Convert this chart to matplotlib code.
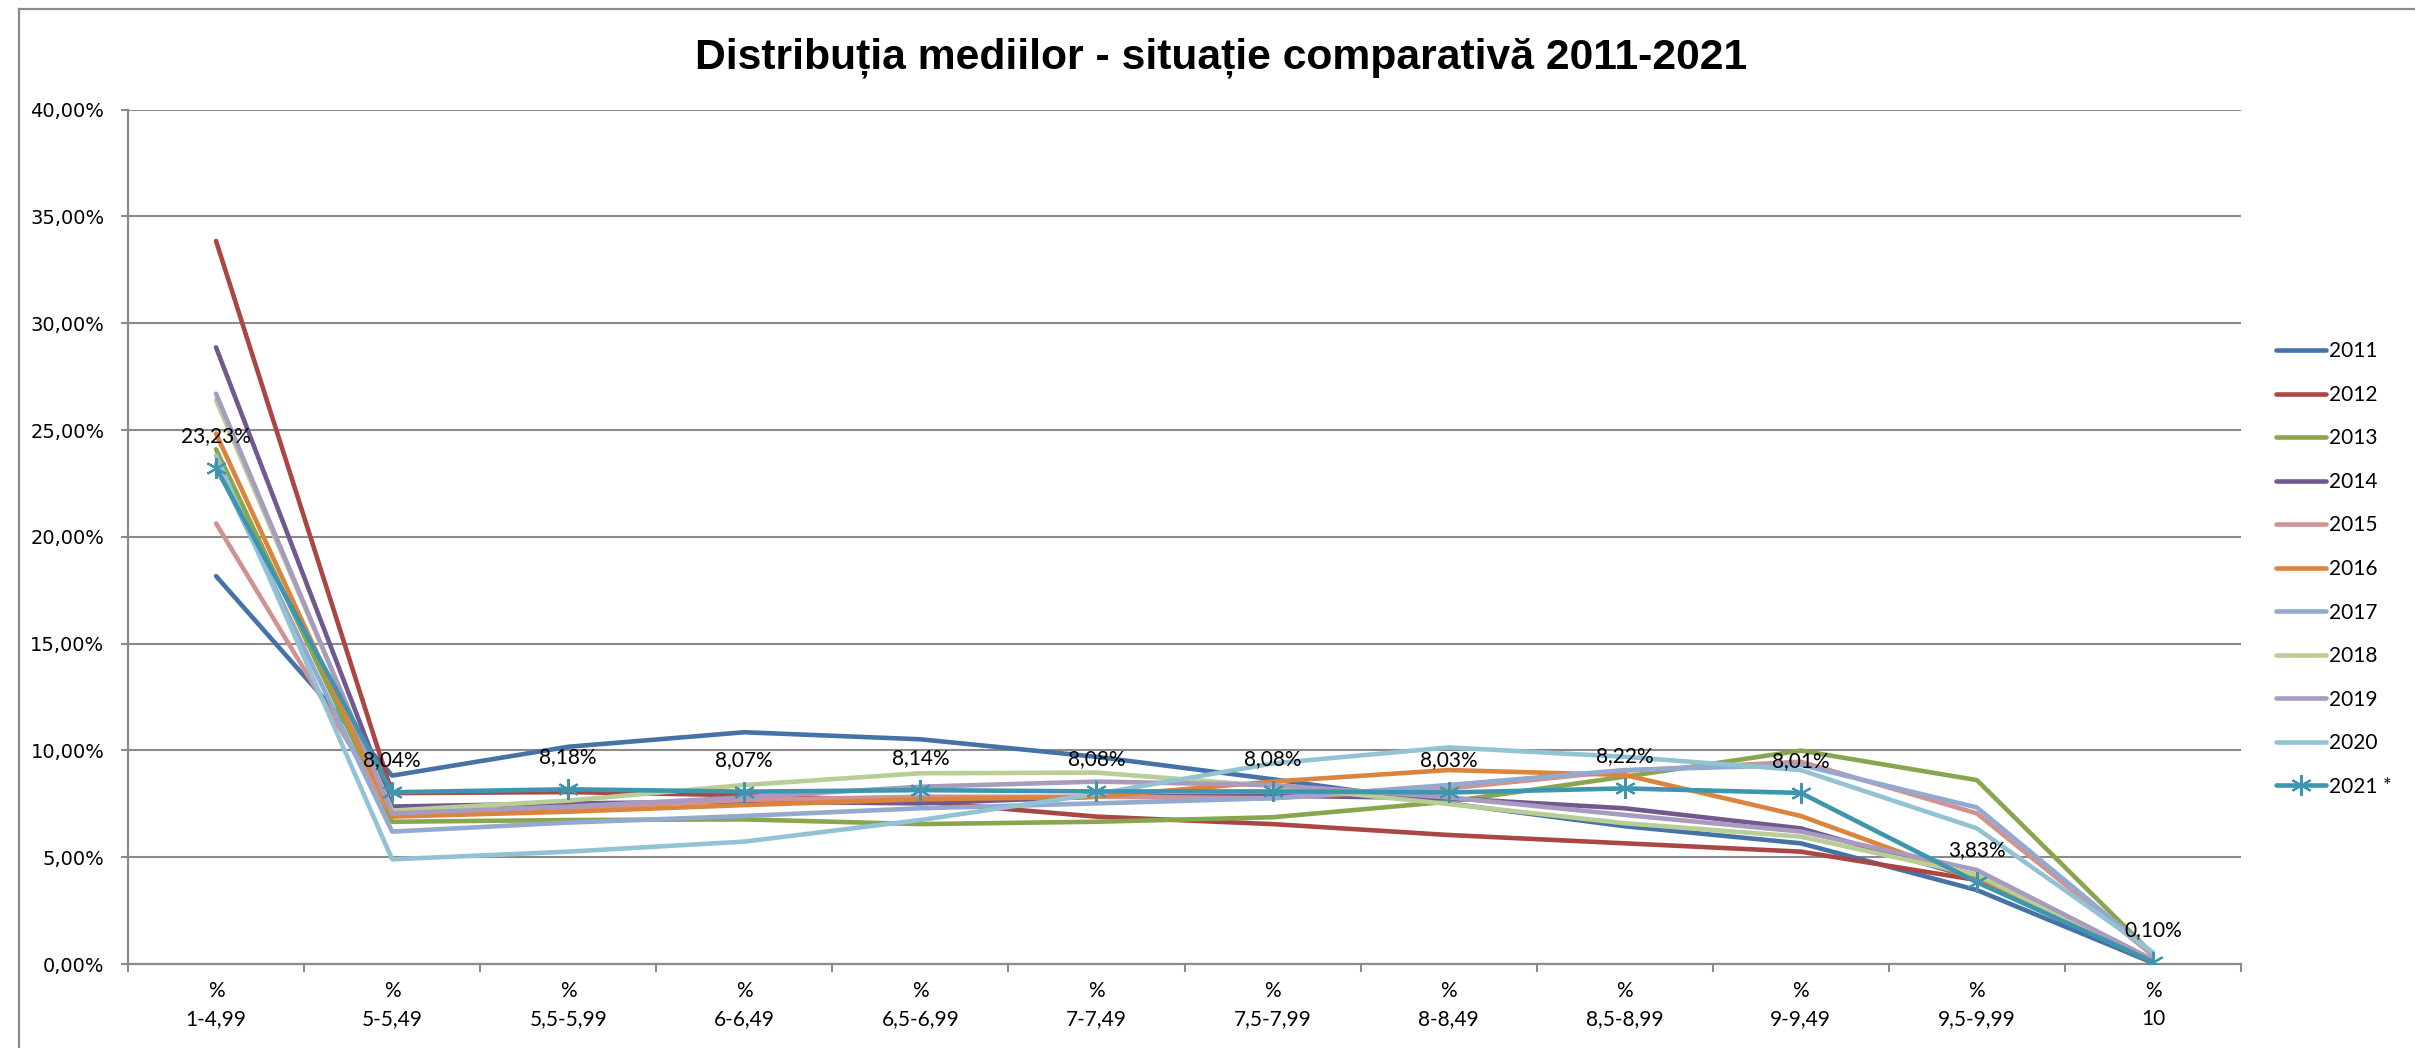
import matplotlib
matplotlib.use("Agg")
import matplotlib.pyplot as plt
from matplotlib.ticker import FuncFormatter, FixedLocator
from matplotlib.lines import Line2D

categorii = ["%\n1-4,99", "%\n5-5,49", "%\n5,5-5,99", "%\n6-6,49", "%\n6,5-6,99",
             "%\n7-7,49", "%\n7,5-7,99", "%\n8-8,49", "%\n8,5-8,99", "%\n9-9,49",
             "%\n9,5-9,99", "%\n10"]

ani = ["2011", "2012", "2013", "2014", "2015", "2016", "2017", "2018", "2019", "2020", "2021 *"]

v2011 = [18.16, 8.82, 10.17, 10.85, 10.52, 9.70, 8.65, 7.52, 6.45, 5.65, 3.46, 0.05]
v2012 = [33.85, 8.00, 8.05, 7.90, 7.60, 6.90, 6.55, 6.04, 5.65, 5.26, 3.93, 0.10]
v2013 = [24.10, 6.66, 6.74, 6.77, 6.55, 6.66, 6.87, 7.60, 8.77, 9.99, 8.61, 0.45]
v2014 = [28.87, 7.37, 7.52, 7.60, 7.52, 7.83, 7.88, 7.76, 7.29, 6.35, 4.00, 0.10]
v2015 = [20.63, 6.98, 7.29, 7.68, 7.83, 7.83, 7.76, 8.22, 9.05, 9.47, 7.05, 0.40]
v2016 = [24.83, 6.90, 7.13, 7.44, 7.71, 7.83, 8.54, 9.08, 8.85, 6.93, 3.93, 0.10]
v2017 = [23.40, 6.20, 6.62, 6.93, 7.29, 7.52, 7.76, 8.38, 9.08, 9.32, 7.33, 0.50]
v2018 = [26.40, 7.18, 7.65, 8.38, 8.93, 8.96, 8.33, 7.49, 6.59, 5.96, 4.17, 0.15]
v2019 = [26.70, 7.05, 7.37, 7.80, 8.30, 8.54, 8.38, 7.80, 6.98, 6.20, 4.40, 0.20]
v2020 = [23.80, 4.90, 5.26, 5.73, 6.74, 7.96, 9.39, 10.14, 9.70, 9.08, 6.35, 0.55]
v2021 = [23.23, 8.04, 8.18, 8.07, 8.14, 8.08, 8.08, 8.03, 8.22, 8.01, 3.83, 0.10]

serii = [v2011, v2012, v2013, v2014, v2015, v2016, v2017, v2018, v2019, v2020, v2021]
culori = ["#4572A7", "#AA4643", "#89A54E", "#71588F", "#D19392", "#DB843D",
          "#93A9CF", "#B9CD96", "#A99BBD", "#92C3D4", "#3D96AE"]

W, H = 2415, 1048
fig = plt.figure(figsize=(W / 100, H / 100), dpi=100)

# chenarul zonei graficului (taiat in dreapta si jos)
fig.add_artist(Line2D([19 / W, 1], [1 - 9 / H, 1 - 9 / H], transform=fig.transFigure,
                      color="#8a8a8a", lw=1.6))
fig.add_artist(Line2D([19 / W, 19 / W], [0, 1 - 9 / H], transform=fig.transFigure,
                      color="#8a8a8a", lw=1.6))

ax = fig.add_axes([128 / W, 84 / H, (2241 - 128) / W, (964 - 109.6) / H])

x = list(range(len(categorii)))
for i in range(len(serii)):
    if i == len(serii) - 1:
        ax.plot(x, serii[i], color=culori[i], lw=3.3, marker=(6, 2, 0), markersize=15,
                markeredgewidth=1.5, label=ani[i], solid_joinstyle="round",
                solid_capstyle="round", zorder=5)
    else:
        ax.plot(x, serii[i], color=culori[i], lw=3.3, label=ani[i],
                solid_joinstyle="round", solid_capstyle="round", zorder=3)

for i in range(len(x)):
    eticheta = ("%.2f%%" % v2021[i]).replace(".", ",")
    ax.annotate(eticheta, (x[i], v2021[i]), xytext=(0, 23), textcoords="offset points",
                ha="center", va="center", fontsize=15, family="Lato", zorder=6)

ax.set_xlim(-0.5, 11.5)
ax.set_ylim(0, 40)
ax.yaxis.set_major_locator(FixedLocator([0, 5, 10, 15, 20, 25, 30, 35, 40]))
ax.yaxis.set_major_formatter(FuncFormatter(lambda v, p: ("%.2f%%" % v).replace(".", ",")))
ax.grid(axis="y", color="#8a8a8a", lw=1.5)
ax.set_axisbelow(True)

ax.set_xticks([k - 0.5 for k in range(13)])
ax.set_xticklabels([])
ax.set_xticks(x, minor=True)
ax.set_xticklabels(categorii, minor=True, family="Lato", fontsize=15, linespacing=1.55)
ax.tick_params(axis="x", which="major", length=6, width=1.5, color="#8a8a8a")
ax.tick_params(axis="x", which="minor", length=0, pad=12)
ax.tick_params(axis="y", length=5, width=1.5, color="#8a8a8a", pad=12, labelsize=14)
for lab in ax.get_yticklabels():
    lab.set_family("DejaVu Sans")

for s in ["top", "right"]:
    ax.spines[s].set_visible(False)
for s in ["left", "bottom"]:
    ax.spines[s].set_color("#8a8a8a")
    ax.spines[s].set_linewidth(1.6)

fig.text(1221 / W, 1 - 68 / H, "Distribuția mediilor - situație comparativă 2011-2021",
         ha="center", va="baseline", fontsize=30.7, fontweight="bold", family="Liberation Sans")

fig.legend(loc="center left", bbox_to_anchor=(2276 / W, 1 - 569 / H), frameon=False,
           prop={"family": "Lato", "size": 15}, handlelength=2.4, handletextpad=0.15,
           labelspacing=1.13, borderpad=0, borderaxespad=0)

fig.savefig("out.png", dpi=100)
